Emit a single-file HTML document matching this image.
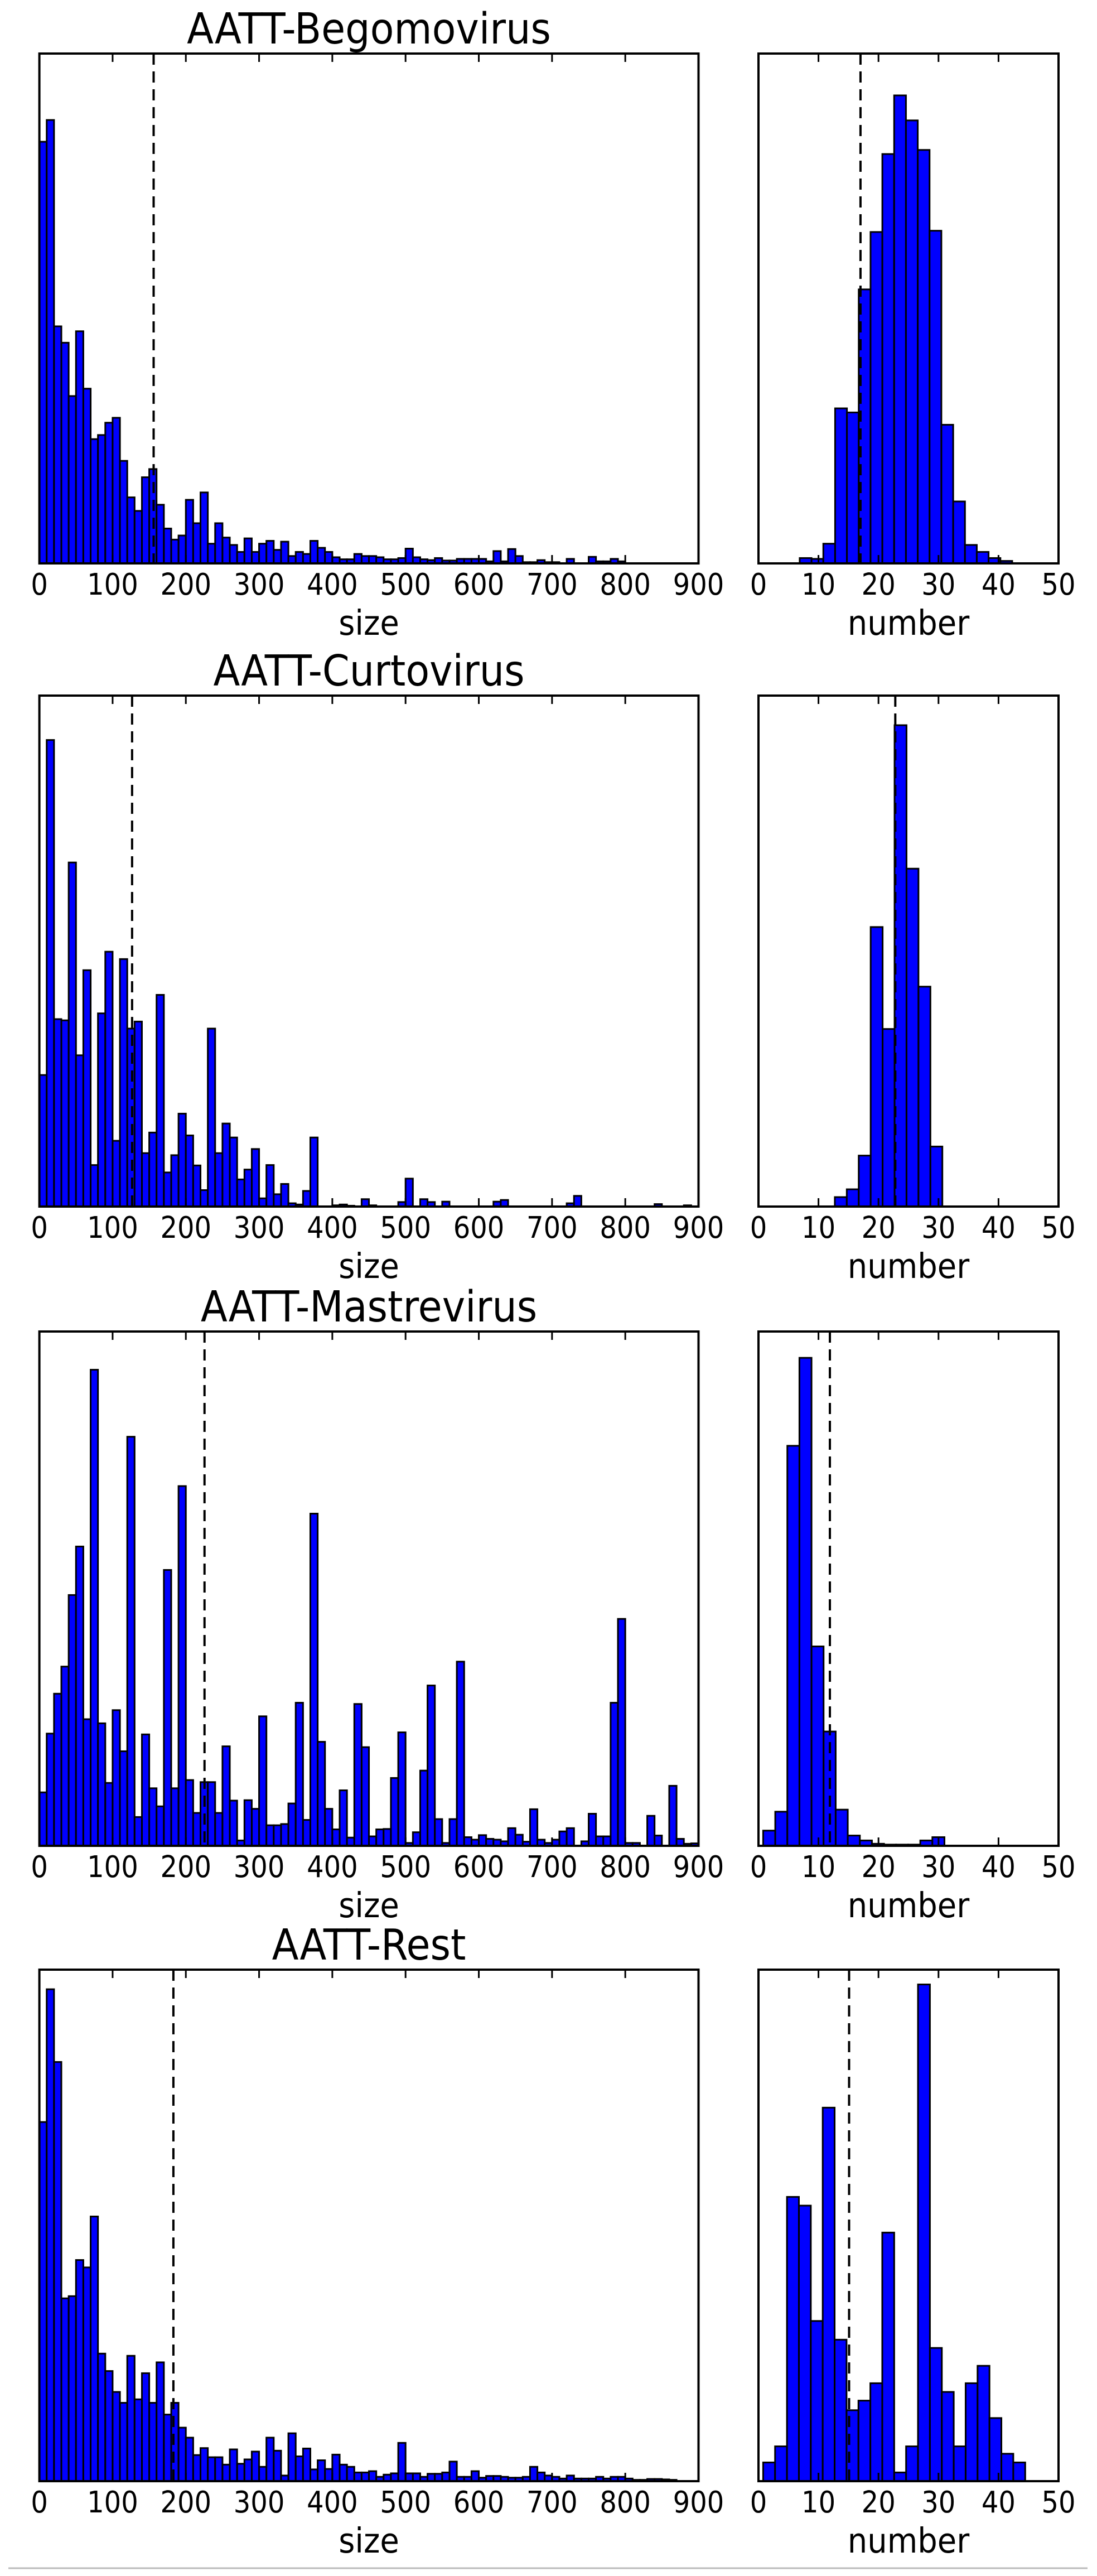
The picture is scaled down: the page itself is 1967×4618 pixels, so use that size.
<!DOCTYPE html>
<html><head><meta charset="utf-8">
<style>html,body{margin:0;padding:0;background:#fff;width:1967px;height:4618px;overflow:hidden}</style>
</head><body>
<svg id="s" xmlns="http://www.w3.org/2000/svg" width="1967" height="4618" viewBox="0 0 1967 4618" font-family="'DejaVu Sans', 'Liberation Sans', sans-serif"></svg>
<script>
var NS="http://www.w3.org/2000/svg";
var svg=document.getElementById('s');
function el(t,a,txt){var e=document.createElementNS(NS,t);for(var k in a)e.setAttribute(k,a[k]);if(txt!=null)e.textContent=txt;svg.appendChild(e);return e;}
function X(zx){return 1.26*zx-5;}
var L0=X(60),L1=X(998),R0=1360,R1=1898;
var panels=[
 {title:"AATT-Begomovirus",top:96,bot:1010,zt:130,zb:1373,dashS:156,dashN:17.0,
  size:[345,292,795,835,965,807,947,1070,1060,1030,1018,1123,1212,1245,1163,1143,1230,1288,1315,1305,1218,1275,1200,1325,1275,1310,1328,1345,1312,1345,1325,1318,1340,1320,1355,1345,1350,1318,1335,1345,1358,1363,1363,1350,1355,1355,1358,1363,1363,1360,1337,1358,1363,1365,1360,1366,1366,1362,1362,1362,1362,1368,1343,1368,1338,1355,1370,1370,1365,1370,1370,1372,1362,1373,1373,1357,1368,1368,1362,1368,1372],
  nx:1142,nw:16.8,num:[1360,1362,1325,995,1005,705,565,375,232,293,365,562,1035,1222,1328,1345,1360,1367]},
 {title:"AATT-Curtovirus",top:1247,bot:2163,zt:145,zb:1388,dashS:126.6,dashN:22.8,
  size:[1068,253,932,935,551,1020,813,1287,918,768,1228,786,955,938,1258,1208,873,1305,1263,1162,1215,1288,1348,955,1258,1186,1220,1322,1298,1248,1368,1287,1358,1333,1380,1383,1350,1220,1388,1388,1385,1383,1386,1388,1370,1385,1388,1388,1388,1377,1320,1388,1370,1377,1388,1376,1388,1388,1388,1388,1388,1388,1376,1372,1388,1388,1388,1388,1388,1388,1388,1388,1380,1362,1388,1388,1388,1388,1388,1388,1388,1388,1388,1388,1382,1388,1388,1388,1385],
  nx:1192,nw:17,num:[1365,1346,1264,708,956,217,566,853,1242]},
 {title:"AATT-Mastrevirus",top:2387,bot:3309,zt:132,zb:1383,dashS:225.5,dashN:11.9,
  size:[1253,1110,1013,947,773,655,1075,225,1085,1230,1053,1153,388,1313,1112,1243,1287,712,1243,508,1223,1303,1228,1228,1303,1141,1273,1370,1272,1293,1068,1333,1333,1330,1280,1035,1320,575,1130,1293,1343,1248,1363,1038,1143,1360,1343,1342,1218,1107,1376,1350,1200,993,1318,1376,1318,935,1362,1368,1357,1366,1368,1372,1340,1356,1373,1294,1368,1376,1368,1348,1340,1383,1372,1305,1360,1360,1035,831,1376,1376,1383,1310,1358,1383,1237,1366,1378,1377],
  nx:1090,nw:17.2,num:[1346,1300,410,196,898,1105,1295,1358,1370,1378,1380,1380,1380,1370,1362,1383,1383,1383]},
 {title:"AATT-Rest",top:3531,bot:4448,zt:168,zb:1343,dashS:183,dashN:15.1,
  size:[518,213,380,923,918,835,852,735,1050,1090,1138,1163,1055,1155,1095,1163,1070,1190,1163,1220,1243,1283,1267,1288,1288,1305,1270,1303,1293,1275,1310,1243,1273,1330,1233,1286,1268,1316,1295,1315,1282,1305,1310,1323,1323,1320,1333,1328,1325,1255,1325,1325,1333,1326,1326,1323,1298,1333,1333,1320,1335,1331,1331,1333,1335,1335,1333,1310,1323,1330,1333,1337,1330,1337,1337,1337,1333,1337,1333,1333,1337,1340,1340,1338,1338,1339,1340],
  nx:1090,nw:16.95,num:[1300,1263,690,710,975,485,1018,1180,1158,1118,772,1323,1263,202,1037,1138,1263,1118,1078,1198,1280,1300]}
];
panels.forEach(function(p){
  function Y(zy){return p.top+(zy-p.zt)/(p.zb-p.zt)*(p.bot-p.top);}
  var bw=(L1-L0)/90;
  p.size.forEach(function(v,i){
    var y=Y(v); if(p.bot-y<0.8) return;
    el('rect',{x:L0+i*bw,y:y,width:bw,height:p.bot-y,fill:'#0000ff',stroke:'#000','stroke-width':3});
  });
  p.num.forEach(function(v,i){
    var y=Y(v); if(p.bot-y<0.8) return;
    var x0=X(p.nx+i*p.nw);
    el('rect',{x:x0,y:y,width:1.26*p.nw,height:p.bot-y,fill:'#0000ff',stroke:'#000','stroke-width':3});
  });
  var dx=L0+p.dashS/900*(L1-L0);
  el('line',{x1:dx,y1:p.top,x2:dx,y2:p.bot,stroke:'#000','stroke-width':4,'stroke-dasharray':'20,12'});
  var nx=R0+p.dashN/50*(R1-R0);
  el('line',{x1:nx,y1:p.top,x2:nx,y2:p.bot,stroke:'#000','stroke-width':4,'stroke-dasharray':'20,12'});
  el('rect',{x:L0,y:p.top,width:L1-L0,height:p.bot-p.top,fill:'none',stroke:'#000','stroke-width':4});
  el('rect',{x:R0,y:p.top,width:R1-R0,height:p.bot-p.top,fill:'none',stroke:'#000','stroke-width':4});
  function lab(x,y,s,fs,txt){
    var t=el('text',{x:0,y:0,'font-size':fs,'text-anchor':'middle',fill:'#000',transform:'translate('+x+','+y+') scale(1,'+s+')'},txt);
  }
  for(var t=0;t<=900;t+=100){
    var x=L0+t/900*(L1-L0);
    el('line',{x1:x,y1:p.top,x2:x,y2:p.top+15,stroke:'#000','stroke-width':3});
    el('line',{x1:x,y1:p.bot,x2:x,y2:p.bot-15,stroke:'#000','stroke-width':3});
    lab(x,p.bot+56,1.12,48,String(t));
  }
  for(var t=0;t<=50;t+=10){
    var x=R0+t/50*(R1-R0);
    el('line',{x1:x,y1:p.top,x2:x,y2:p.top+15,stroke:'#000','stroke-width':3});
    el('line',{x1:x,y1:p.bot,x2:x,y2:p.bot-15,stroke:'#000','stroke-width':3});
    lab(x,p.bot+56,1.12,48,String(t));
  }
  lab((L0+L1)/2,p.bot+128,1.1,56,'size');
  lab((R0+R1)/2,p.bot+128,1.1,56,'number');
  lab((L0+L1)/2,p.top-18,1.1,70,p.title);
});
el('line',{x1:15,y1:4604,x2:1950,y2:4604,stroke:'#bbbbbb','stroke-width':3});
</script>
</body></html>
